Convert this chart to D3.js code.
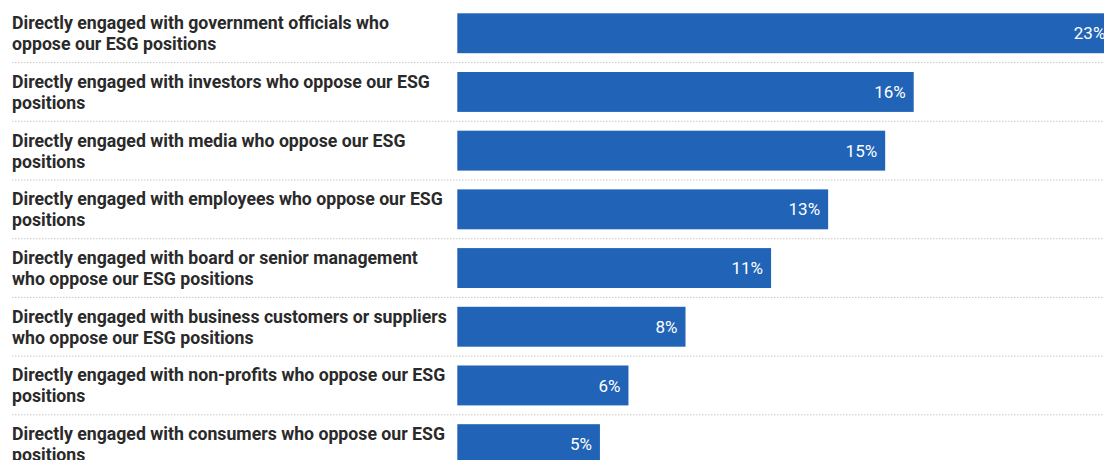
<!DOCTYPE html>
<html>
<head>
<meta charset="utf-8">
<script src="https://cdn.jsdelivr.net/npm/d3@7"></script>
<style>
  html, body { margin: 0; padding: 0; background: #fff; overflow: hidden; }
  svg { display: block; overflow: hidden; }
</style>
</head>
<body>
<div id="chart"></div>
<script>
const categories = [
  "Directly engaged with government officials who oppose our ESG positions",
  "Directly engaged with investors who oppose our ESG positions",
  "Directly engaged with media who oppose our ESG positions",
  "Directly engaged with employees who oppose our ESG positions",
  "Directly engaged with board or senior management who oppose our ESG positions",
  "Directly engaged with business customers or suppliers who oppose our ESG positions",
  "Directly engaged with non-profits who oppose our ESG positions",
  "Directly engaged with consumers who oppose our ESG positions"
];
const values = [23, 16, 15, 13, 11, 8, 6, 5];
const valueLabels = ["23%", "16%", "15%", "13%", "11%", "8%", "6%", "5%"];

const W = 1104, H = 460;
const labelX = 12, labelMaxW = 437.5;
const barX0 = 457.3;

const svg = d3.select("#chart").append("svg")
  .attr("width", W).attr("height", H);

const x = d3.scaleLinear().domain([0, 16]).range([barX0, 913.7]);
const y = d3.scaleBand()
  .domain(categories)
  .range([3.9, 3.9 + 8 * 58.7])
  .paddingInner(0.32)
  .paddingOuter(0.16);

// dotted separators between rows
const seps = categories.slice(0, -1);
svg.append("g").selectAll("line").data(seps).join("line")
  .attr("x1", labelX).attr("x2", W)
  .attr("y1", d => y(d) + y.bandwidth() + (y.step() - y.bandwidth()) / 2)
  .attr("y2", d => y(d) + y.bandwidth() + (y.step() - y.bandwidth()) / 2)
  .attr("stroke", "#c8c8c8")
  .attr("stroke-width", 1)
  .attr("stroke-dasharray", "1.5,1.5");

// bars
svg.append("g").selectAll("rect").data(categories).join("rect")
  .attr("x", barX0)
  .attr("y", d => y(d))
  .attr("width", (d, i) => x(values[i]) - barX0)
  .attr("height", y.bandwidth())
  .attr("fill", "#2163b6");

// value labels inside bar ends
svg.append("g").selectAll("text").data(categories).join("text")
  .attr("x", (d, i) => x(values[i]) - 8)
  .attr("y", d => y(d) + y.bandwidth() / 2)
  .attr("dy", "0.36em")
  .attr("text-anchor", "end")
  .attr("fill", "#ffffff")
  .style("font-family", "Roboto, sans-serif")
  .style("font-size", "17px")
  .text((d, i) => valueLabels[i]);

// wrapped category labels
const lblG = svg.append("g")
  .style("font-family", "Roboto, sans-serif")
  .style("font-size", "17.7px")
  .style("font-weight", "700")
  .attr("fill", "#2a2a2a");

categories.forEach(cat => {
  const t = lblG.append("text").attr("x", labelX);
  const words = cat.split(" ");
  const lines = [];
  let cur = [];
  const probe = t.append("tspan");
  words.forEach(w => {
    const test = cur.concat(w).join(" ");
    probe.text(test);
    if (probe.node().getComputedTextLength() > labelMaxW && cur.length) {
      lines.push(cur.join(" "));
      cur = [w];
    } else {
      cur.push(w);
    }
  });
  lines.push(cur.join(" "));
  probe.remove();
  const lh = 21;
  const cy = y(cat) + y.bandwidth() / 2;
  const top = cy - (lines.length - 1) * lh / 2;
  lines.forEach((ln, i) => {
    t.append("tspan")
      .attr("x", labelX)
      .attr("y", top + i * lh)
      .attr("dy", "0.36em")
      .text(ln);
  });
});
</script>
</body>
</html>
